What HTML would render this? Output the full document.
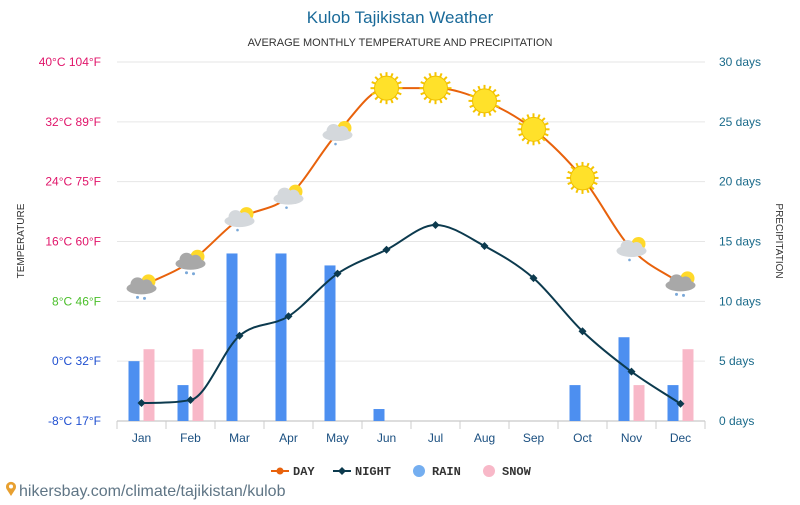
<!DOCTYPE html>
<html><head><meta charset="utf-8"><style>
body{margin:0;background:#fff;width:800px;height:500px;overflow:hidden;font-family:"Liberation Sans",sans-serif}
</style></head><body>
<svg id="c" width="800" height="500" xmlns="http://www.w3.org/2000/svg">
<text x="400" y="23" text-anchor="middle" font-size="17" fill="#1a6a99">Kulob Tajikistan Weather</text>
<text x="400" y="46" text-anchor="middle" font-size="11" fill="#333">AVERAGE MONTHLY TEMPERATURE AND PRECIPITATION</text>
<text transform="translate(24,241) rotate(-90)" text-anchor="middle" font-size="10" fill="#333">TEMPERATURE</text>
<text transform="translate(776,241) rotate(90)" text-anchor="middle" font-size="10" fill="#333">PRECIPITATION</text>
<g id="grid"></g><g id="bars"></g><g id="lines"></g><g id="icons"></g><g id="axes"></g>
<g font-size="12" font-weight="bold" fill="#333" font-family="Liberation Mono,monospace">
<g><line x1="271" y1="471" x2="289" y2="471" stroke="#e8620c" stroke-width="2"/><circle cx="280" cy="471" r="3.5" fill="#e8620c"/><text x="293" y="475">DAY</text></g>
<g><line x1="333" y1="471" x2="351" y2="471" stroke="#0c3a4e" stroke-width="2"/><path d="M342 467 L346 471 L342 475 L338 471Z" fill="#0c3a4e"/><text x="355" y="475">NIGHT</text></g>
<g><circle cx="419" cy="471" r="6" fill="#74aef0"/><text x="432" y="475">RAIN</text></g>
<g><circle cx="489" cy="471" r="6" fill="#f8b8c8"/><text x="502" y="475">SNOW</text></g>
</g>
<g>
<path d="M11 496 L6.5 489 A5 5 0 1 1 15.5 489 Z" fill="#e8a030"/><circle cx="11" cy="486.5" r="2" fill="#fff"/>
<text x="19" y="496" font-size="16" fill="#5f7585">hikersbay.com/climate/tajikistan/kulob</text>
</g>
</svg>
<script>
const months=["Jan","Feb","Mar","Apr","May","Jun","Jul","Aug","Sep","Oct","Nov","Dec"];
const dayTemp=[10,13.3,19,22,30.5,36.5,36.5,34.8,31,24.5,15,10.4];
const nightTemp=[-5.6,-5.2,3.4,6,11.7,14.9,18.2,15.4,11.1,4,-1.4,-5.7];
const rainDays=[5,3,14,14,13,1,0,0,0,3,7,3];
const snowDays=[6,6,0,0,0,0,0,0,0,0,3,6];
const leftTicks=["-8°C 17°F","0°C 32°F","8°C 46°F","16°C 60°F","24°C 75°F","32°C 89°F","40°C 104°F"];
const leftColors=["#1f4fd0","#1f4fd0","#4bbf2b","#e0156a","#e0156a","#e0156a","#e0156a"];
const rightTicks=["0 days","5 days","10 days","15 days","20 days","25 days","30 days"];
const icons=["cloudsnow","cloudsnow","cloudsun","cloudsun","cloudsun","sun","sun","sun","sun","sun","cloudsun","cloudsnow"];
const NS="http://www.w3.org/2000/svg";
const X0=117,X1=705,YT=62,YB=421;
const xs=i=>X0+(X1-X0)/12*(i+0.5);
const yT=t=>YB-(t+8)/48*(YB-YT);
const yD=d=>YB-d/30*(YB-YT);
function mk(tag,attrs,parent){const e=document.createElementNS(NS,tag);for(const k in attrs)e.setAttribute(k,attrs[k]);parent.appendChild(e);return e;}
const g=id=>document.getElementById(id);
for(let k=0;k<7;k++){const y=YB-k*(YB-YT)/6;
 const l=mk('line',{x1:X0,x2:X1,y1:y,y2:y,stroke:k==0?'#bbb':'#e6e6e6'},g('grid'));
 
 
 const t=mk('text',{x:101,y:y+4,'text-anchor':'end','font-size':12,fill:leftColors[k]},g('axes'));t.textContent=leftTicks[k];
 
 
 const r=mk('text',{x:719,y:y+4,'font-size':12,fill:'#1a6a8a'},g('axes'));r.textContent=rightTicks[k];
 
 
}
for(let i=0;i<=12;i++){const x=X0+(X1-X0)/12*i;mk('line',{x1:x,x2:x,y1:YB,y2:YB+8,stroke:'#ccc'},g('axes'));}
months.forEach((m,i)=>{const t=mk('text',{x:xs(i),y:442,'text-anchor':'middle','font-size':12,fill:'#1a4f80'},g('axes'));t.textContent=m;
 
 
 if(rainDays[i]>0){const b=mk('rect',{x:xs(i)-13,y:yD(rainDays[i]),width:11,height:YB-yD(rainDays[i]),fill:'#4d8ff0'},g('bars'));
  
  }
 if(snowDays[i]>0){const b=mk('rect',{x:xs(i)+2,y:yD(snowDays[i]),width:11,height:YB-yD(snowDays[i]),fill:'#f8b8c8'},g('bars'));
  
  }
});
function smooth(pts){const n=pts.length,h=pts[1][0]-pts[0][0];const d=[],m=[];
 for(let i=0;i<n-1;i++)d.push((pts[i+1][1]-pts[i][1])/h);
 for(let i=0;i<n;i++){if(i==0)m.push(d[0]);else if(i==n-1)m.push(d[n-2]);else m.push(d[i-1]*d[i]<=0?0:(d[i-1]+d[i])/2);}
 for(let i=0;i<n-1;i++){if(d[i]==0){m[i]=0;m[i+1]=0;continue;}const a=m[i]/d[i],b=m[i+1]/d[i],s=a*a+b*b;if(s>9){const t=3/Math.sqrt(s);m[i]=t*a*d[i];m[i+1]=t*b*d[i];}}
 let p=`M${pts[0][0]},${pts[0][1]}`;
 for(let i=0;i<n-1;i++){p+=` C${pts[i][0]+h/3},${pts[i][1]+m[i]*h/3} ${pts[i+1][0]-h/3},${pts[i+1][1]-m[i+1]*h/3} ${pts[i+1][0]},${pts[i+1][1]}`;}
 return p;}
const dp=dayTemp.map((t,i)=>[xs(i),yT(t)]),np=nightTemp.map((t,i)=>[xs(i),yT(t)]);
const dl=mk('path',{d:smooth(dp),fill:'none',stroke:'#e8620c','stroke-width':2},g('lines'));


const nl=mk('path',{d:smooth(np),fill:'none',stroke:'#0c3a4e','stroke-width':2},g('lines'));


np.forEach(p=>{const m=mk('path',{d:`M${p[0]} ${p[1]-4}L${p[0]+4} ${p[1]}L${p[0]} ${p[1]+4}L${p[0]-4} ${p[1]}Z`,fill:'#0c3a4e'},g('lines'));
 
 });
dp.forEach((p,i)=>{const gi=mk('g',{},g('icons'));
 
 
 const [x,y]=p;
 if(icons[i]=='sun'){for(let a=0;a<16;a++){const an=a*Math.PI/8;mk('line',{x1:x,y1:y,x2:x+16*Math.cos(an),y2:y+16*Math.sin(an),stroke:'#f5c400','stroke-width':2},gi);}
  mk('circle',{cx:x,cy:y,r:12,fill:'#ffe12a',stroke:'#f0c000'},gi);}
 else{ mk('circle',{cx:x+7,cy:y-5,r:7,fill:'#ffd92a'},gi);
  const c=icons[i]=='cloudsnow'?'#a8a8a8':'#d4d8dc';
  mk('ellipse',{cx:x,cy:y+2,rx:15,ry:6,fill:c},gi);mk('circle',{cx:x-4,cy:y-2,r:7,fill:c},gi);mk('circle',{cx:x+5,cy:y-1,r:6,fill:c},gi);
  if(icons[i]=='cloudsnow'){mk('circle',{cx:x-4,cy:y+11,r:1.5,fill:'#7aa8d8'},gi);mk('circle',{cx:x+3,cy:y+12,r:1.5,fill:'#7aa8d8'},gi);}
  else mk('circle',{cx:x-2,cy:y+11,r:1.3,fill:'#7aa8d8'},gi);}
});
</script>
</body></html>
